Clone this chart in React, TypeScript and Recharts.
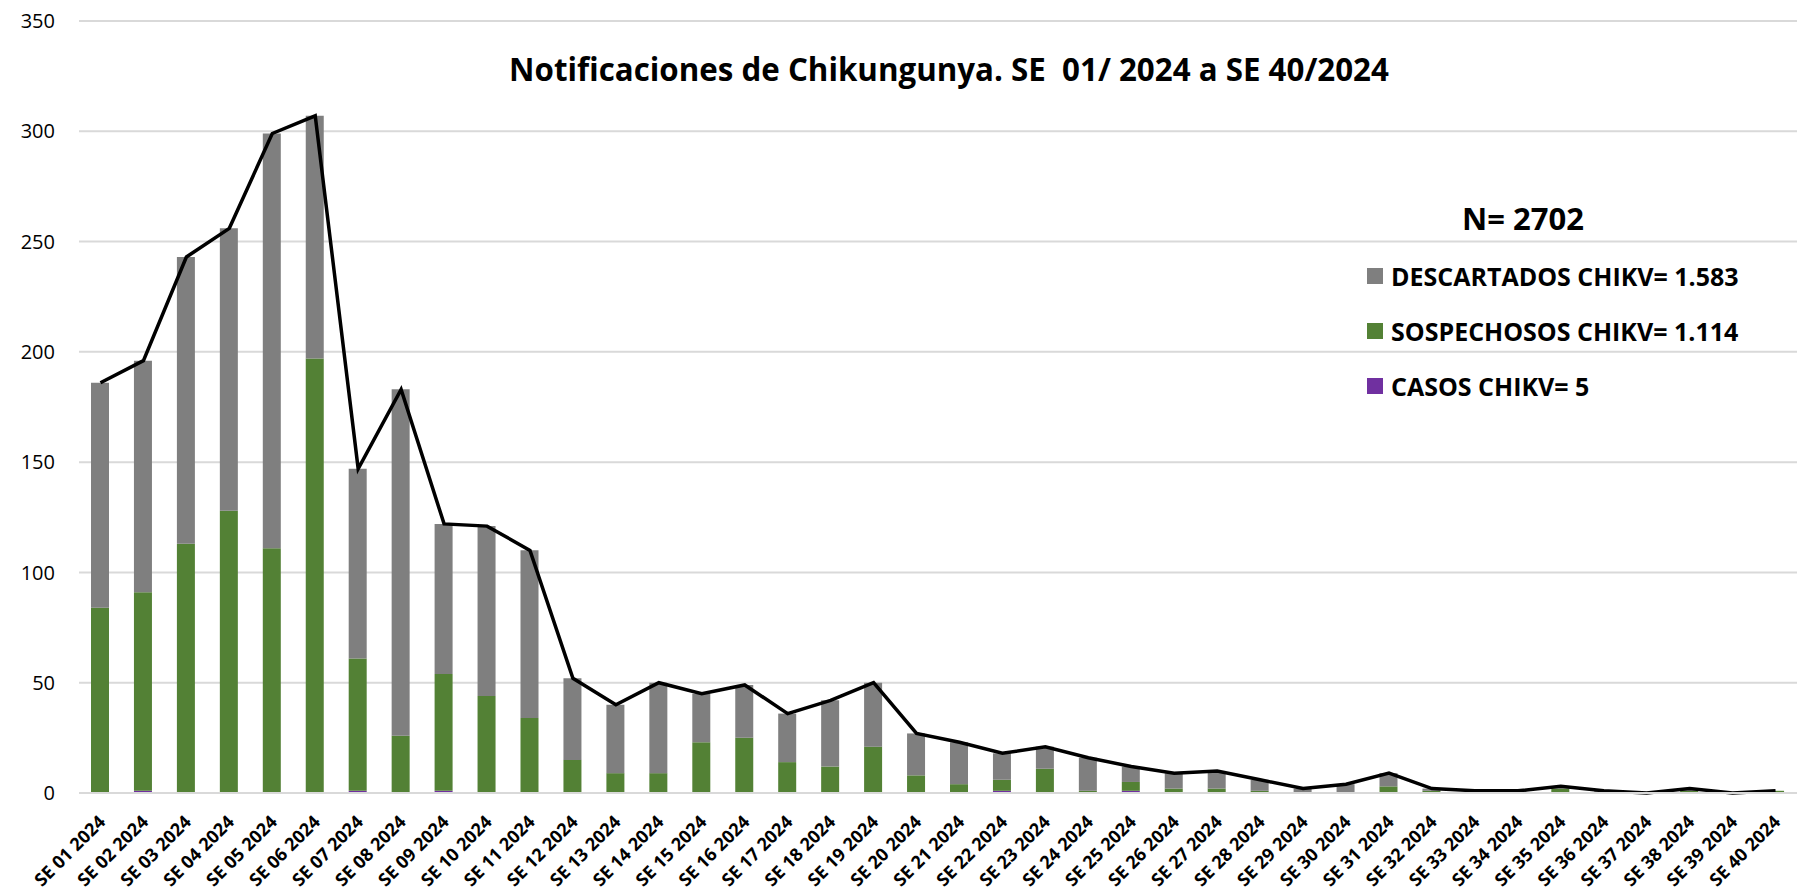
import React from 'react';
import { ComposedChart, Bar, Line, XAxis, YAxis, CartesianGrid } from 'recharts';

const weeks = [
  'SE 01 2024', 'SE 02 2024', 'SE 03 2024', 'SE 04 2024', 'SE 05 2024', 'SE 06 2024', 'SE 07 2024', 'SE 08 2024',
  'SE 09 2024', 'SE 10 2024', 'SE 11 2024', 'SE 12 2024', 'SE 13 2024', 'SE 14 2024', 'SE 15 2024', 'SE 16 2024',
  'SE 17 2024', 'SE 18 2024', 'SE 19 2024', 'SE 20 2024', 'SE 21 2024', 'SE 22 2024', 'SE 23 2024', 'SE 24 2024',
  'SE 25 2024', 'SE 26 2024', 'SE 27 2024', 'SE 28 2024', 'SE 29 2024', 'SE 30 2024', 'SE 31 2024', 'SE 32 2024',
  'SE 33 2024', 'SE 34 2024', 'SE 35 2024', 'SE 36 2024', 'SE 37 2024', 'SE 38 2024', 'SE 39 2024', 'SE 40 2024',
];

const descartados = [
  102, 105, 130, 128, 188, 110, 86, 157, 68, 77, 76, 37, 31, 41, 22, 24, 22, 30, 29, 19,
  19, 12, 10, 15, 7, 7, 8, 5, 2, 4, 6, 1, 1, 1, 1, 1, 0, 1, 0, 0,
];
const sospechosos = [
  84, 90, 113, 128, 111, 197, 60, 26, 53, 44, 34, 15, 9, 9, 23, 25, 14, 12, 21, 8,
  4, 5, 11, 1, 4, 2, 2, 1, 0, 0, 3, 1, 0, 0, 2, 0, 0, 1, 0, 1,
];
const casos = [
  0, 1, 0, 0, 0, 0, 1, 0, 1, 0, 0, 0, 0, 0, 0, 0, 0, 0, 0, 0,
  0, 1, 0, 0, 1, 0, 0, 0, 0, 0, 0, 0, 0, 0, 0, 0, 0, 0, 0, 0,
];
const totales = [
  186, 196, 243, 256, 299, 307, 147, 183, 122, 121, 110, 52, 40, 50, 45, 49, 36, 42, 50, 27,
  23, 18, 21, 16, 12, 9, 10, 6, 2, 4, 9, 2, 1, 1, 3, 1, 0, 2, 0, 1,
];

const yTicks = [0, 50, 100, 150, 200, 250, 300, 350];
const titulo = 'Notificaciones de Chikungunya. SE  01/ 2024 a SE 40/2024';
const totalLabel = 'N= 2702';
const legendItems = [
  { label: 'DESCARTADOS CHIKV= 1.583', color: '#7f7f7f' },
  { label: 'SOSPECHOSOS CHIKV= 1.114', color: '#538135' },
  { label: 'CASOS CHIKV= 5', color: '#7030a0' },
];

const data = weeks.map((week, i) => ({
  week,
  casos: casos[i],
  sospechosos: sospechosos[i],
  descartados: descartados[i],
  total: totales[i],
}));

const FONT = '"Open Sans", sans-serif';

const WeekTick = (props: any) => {
  const { x, y, payload } = props;
  return (
    <g transform={`translate(${x + 6},${y + 22})`}>
      <text
        textAnchor="end"
        transform="rotate(-45)"
        fontFamily={FONT}
        fontWeight={700}
        fontSize={18}
        fill="#000"
      >
        {payload.value}
      </text>
    </g>
  );
};

export default function App() {
  return (
    <div style={{ position: 'fixed', left: 0, top: 0, width: 1802, height: 891, background: '#fff' }}>
      <ComposedChart
        width={1802}
        height={891}
        data={data}
        margin={{ top: 21, right: 5, bottom: 0, left: 0 }}
        barSize={18}
      >
        <CartesianGrid vertical={false} stroke="#d9d9d9" strokeWidth={2} />
        <XAxis
          dataKey="week"
          interval={0}
          height={98}
          tickLine={false}
          axisLine={{ stroke: '#d9d9d9', strokeWidth: 2 }}
          tick={<WeekTick />}
        />
        <YAxis
          domain={[0, 350]}
          ticks={yTicks}
          width={79}
          axisLine={false}
          tickLine={false}
          tickSize={22}
          tickMargin={2}
          tick={{ fontFamily: FONT, fontSize: 20, fill: '#000' }}
        />
        <Bar dataKey="casos" stackId="a" fill="#7030a0" isAnimationActive={false} />
        <Bar dataKey="sospechosos" stackId="a" fill="#538135" isAnimationActive={false} />
        <Bar dataKey="descartados" stackId="a" fill="#7f7f7f" isAnimationActive={false} />
        <Line
          type="linear"
          dataKey="total"
          stroke="#000"
          strokeWidth={3.5}
          dot={false}
          activeDot={false}
          isAnimationActive={false}
        />
      </ComposedChart>

      <div
        style={{
          position: 'absolute',
          left: 0,
          top: 47,
          width: 1802,
          paddingLeft: 96,
          boxSizing: 'border-box',
          textAlign: 'center',
          fontFamily: FONT,
          fontWeight: 700,
          fontSize: 31.3,
          lineHeight: '44px',
          color: '#000',
          whiteSpace: 'pre',
        }}
      >
        {titulo}
      </div>

      <div style={{ position: 'absolute', left: 1367, top: 198, width: 430, fontFamily: FONT, fontWeight: 700, color: '#000' }}>
        <div style={{ fontSize: 31, lineHeight: '40px', marginLeft: 95, marginBottom: 10 }}>{totalLabel}</div>
        {legendItems.map((it) => (
          <div key={it.label} style={{ display: 'flex', alignItems: 'center', height: 55 }}>
            <span style={{ width: 16, height: 16, background: it.color, display: 'inline-block', marginRight: 8 }} />
            <span style={{ fontSize: 25, whiteSpace: 'nowrap' }}>{it.label}</span>
          </div>
        ))}
      </div>
    </div>
  );
}
